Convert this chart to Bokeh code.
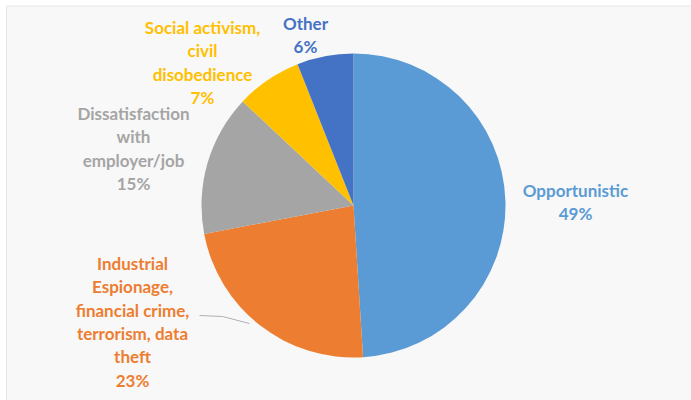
import math
from bokeh.plotting import figure
from bokeh.models import ColumnDataSource
from bokeh.core.properties import value
from bokeh.embed import file_html
from bokeh.resources import INLINE

# ---- data ----
categories = ["Opportunistic",
              "Industrial\nEspionage,\nfinancial crime,\nterrorism, data\ntheft",
              "Dissatisfaction\nwith\nemployer/job",
              "Social activism,\ncivil\ndisobedience",
              "Other"]
shares = [49, 23, 15, 7, 6]
colors = ["#5B9BD5", "#ED7D31", "#A5A5A5", "#FFC000", "#4472C4"]

W, H = 691, 400
CX, CY, R = 353, H - 205, 152

p = figure(width=W, height=H, x_range=(0, W), y_range=(0, H),
           output_backend="svg", toolbar_location=None, min_border=0)
p.axis.visible = False
p.grid.visible = False
p.outline_line_color = None
p.background_fill_color = "white"
p.border_fill_color = "white"

# panel
p.quad(left=[6], right=[W + 2], bottom=[-2], top=[H - 5.5],
       fill_color="#f8f8f8", line_color="#e6e6e6", line_width=1)

# wedges (clockwise from 12 o'clock)
total = sum(shares)
starts, ends = [], []
acc = 0.0
for s in shares:
    a0 = math.pi / 2 - 2 * math.pi * acc / total
    acc += s
    a1 = math.pi / 2 - 2 * math.pi * acc / total
    starts.append(a0)
    ends.append(a1)
src = ColumnDataSource(dict(start=starts, end=ends, color=colors))
p.wedge(x=CX, y=CY, radius=R, start_angle="start", end_angle="end",
        direction="clock", fill_color="color", line_color=None, source=src)

# leader line for Industrial label
p.line(x=[199, 222, 249], y=[H - 315, H - 316, H - 323], line_color="#b0b0b0", line_width=1)

# label anchors (center x, first line y in px from top), line spacing
anchors = [(575, 190), (132, 263), (133, 113), (202, 27), (305, 23)]
LS = 23.3
for cat, sh, col, (ax, ay) in zip(categories, shares, colors, anchors):
    lines = cat.split("\n") + [f"{sh}%"]
    xs = [ax] * len(lines)
    ys = [H - (ay + i * LS) for i in range(len(lines))]
    p.text(x=xs, y=ys, text=lines, text_color=col, text_font=value("Lato"),
           text_font_style="bold", text_font_size="17px",
           text_align="center", text_baseline="middle")

open("out.html", "w").write(file_html(p, INLINE))
